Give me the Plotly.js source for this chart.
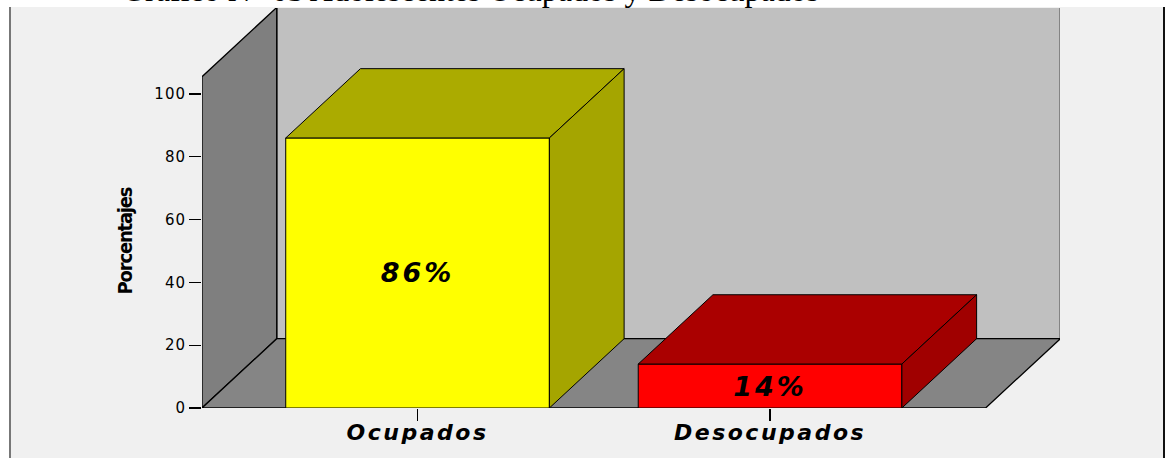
<!DOCTYPE html>
<html>
<head>
<meta charset="utf-8">
<script src="https://cdn.plot.ly/plotly-3.0.1.min.js"></script>
<style>
  html, body { margin: 0; padding: 0; background: #ffffff; }
  #chart { width: 1171px; height: 458px; }
  .xtick text { letter-spacing: 2.5px; }
  .ytick text { letter-spacing: 1px; }
  text.bartext { letter-spacing: 3px; }
  g.annotation[data-index="1"] text { letter-spacing: -1.2px; }
</style>
</head>
<body>
<div id="chart"></div>
<script>
// ---- data ----
const categories = ['Ocupados', 'Desocupados'];
const percentages = [86, 14];
const barLabels = ['86%', '14%'];
const yTickVals = [0, 20, 40, 60, 80, 100];
const chartTitle = 'Gráfico N° 03 Adolescentes Ocupados y Desocupados';
const yTitle = 'Porcentajes';

// ---- styling / geometry constants ----
const frontColors = ['#ffff00', '#ff0000'];
const topColors = ['#abab00', '#aa0000'];
const sideColors = ['#a5a500', '#a00000'];
const BAR_W = 0.748;     // bar width in category units
const DX = 0.212;        // depth offset (x units)
const DY = 22.07;        // depth offset (y units)
const WALL_H = 105.5;    // wall height (y units)
const X_LO = -0.6115, X_HI = 1.6115;
const ML = 202, MR = 111, MT = 8, MB = 50;
const PW = 1171 - ML - MR, PH = 458 - MT - MB;
const PX_PER_CAT = 352.5, PX_PER_UNIT = 3.14;
const xRange = [X_LO, X_LO + PW / PX_PER_CAT];
const yRange = [0, PH / PX_PER_UNIT];
const px2paperX = p => (p - ML) / PW;
const px2paperY = p => (458 - MB - p) / PH;

const idx = categories.map((_, i) => i);
const traces = [];

// front faces of bars
traces.push({
  type: 'bar',
  x: idx,
  y: percentages,
  width: BAR_W,
  marker: { color: frontColors, line: { color: '#000', width: 1 } },
  text: barLabels,
  textposition: 'inside',
  insidetextanchor: 'middle',
  textangle: 0,
  constraintext: 'none',
  insidetextfont: { family: 'DejaVu Sans, Verdana, sans-serif', size: 27, color: '#000', weight: 'bold', style: 'italic' },
  hoverinfo: 'skip',
  showlegend: false
});

// top and side faces (depth) of bars
idx.forEach(i => {
  const v = percentages[i];
  const l = i - BAR_W / 2, r = i + BAR_W / 2;
  traces.push({
    type: 'scatter', mode: 'lines', fill: 'toself',
    x: [l, r, r + DX, l + DX, l],
    y: [v, v, v + DY, v + DY, v],
    fillcolor: topColors[i], line: { color: '#000', width: 1 },
    hoverinfo: 'skip', showlegend: false
  });
  traces.push({
    type: 'scatter', mode: 'lines', fill: 'toself',
    x: [r, r, r + DX, r + DX, r],
    y: [0, v, v + DY, DY, 0],
    fillcolor: sideColors[i], line: { color: '#000', width: 1 },
    hoverinfo: 'skip', showlegend: false
  });
});

const wallLine = { color: '#000', width: 1.3 };
const shapes = [
  // grey panel background and frame
  { type: 'rect', xref: 'paper', yref: 'paper', layer: 'below',
    x0: px2paperX(11), x1: px2paperX(1163), y0: px2paperY(470), y1: px2paperY(7),
    fillcolor: '#f0f0f0', line: { width: 0 } },
  { type: 'line', xref: 'paper', yref: 'paper', layer: 'below',
    x0: px2paperX(10), x1: px2paperX(10), y0: px2paperY(470), y1: px2paperY(7),
    line: { color: '#777777', width: 2 } },
  { type: 'line', xref: 'paper', yref: 'paper', layer: 'below',
    x0: px2paperX(1164), x1: px2paperX(1164), y0: px2paperY(470), y1: px2paperY(7),
    line: { color: '#111111', width: 2 } },
  // back wall
  { type: 'rect', xref: 'x', yref: 'y', layer: 'below',
    x0: X_LO + DX, x1: X_HI + DX, y0: DY, y1: WALL_H + DY,
    fillcolor: '#c0c0c0', line: wallLine },
  // left wall
  { type: 'path', xref: 'x', yref: 'y', layer: 'below',
    path: `M ${X_LO},0 L ${X_LO},${WALL_H} L ${X_LO + DX},${WALL_H + DY} L ${X_LO + DX},${DY} Z`,
    fillcolor: '#7f7f7f', line: wallLine },
  // floor
  { type: 'path', xref: 'x', yref: 'y', layer: 'below',
    path: `M ${X_LO},0 L ${X_HI},0 L ${X_HI + DX},${DY} L ${X_LO + DX},${DY} Z`,
    fillcolor: '#858585', line: wallLine }
];

const layout = {
  width: 1171, height: 458,
  margin: { l: ML, r: MR, t: MT, b: MB },
  paper_bgcolor: '#ffffff',
  plot_bgcolor: 'rgba(0,0,0,0)',
  hovermode: false,
  showlegend: false,
  xaxis: {
    range: xRange, showgrid: false, zeroline: false, showline: false,
    tickvals: idx, ticktext: categories,
    ticks: 'outside', ticklen: 12, tickwidth: 1.3, tickcolor: '#000',
    ticklabelstandoff: -7,
    tickfont: { family: 'DejaVu Sans, Verdana, sans-serif', size: 22, color: '#000', weight: 'bold', style: 'italic' },
    fixedrange: true
  },
  yaxis: {
    range: yRange, showgrid: false, zeroline: false, showline: false,
    tickvals: yTickVals,
    ticks: 'outside', ticklen: 12, tickwidth: 1.3, tickcolor: '#000',
    tickfont: { family: 'DejaVu Sans, Verdana, sans-serif', size: 15, color: '#000' },
    fixedrange: true
  },
  shapes: shapes,
  annotations: [
    { text: chartTitle, xref: 'paper', yref: 'paper', x: px2paperX(470), y: 1,
      xanchor: 'center', yanchor: 'bottom', yshift: -2, showarrow: false,
      font: { family: 'Liberation Serif, Times New Roman, serif', size: 32, color: '#000' } },
    { text: yTitle, xref: 'paper', yref: 'paper', x: px2paperX(125), y: px2paperY(241),
      xanchor: 'center', yanchor: 'middle', textangle: -90, showarrow: false,
      font: { family: 'Liberation Sans Narrow, DejaVu Sans Condensed, Arial Narrow, sans-serif', size: 20, color: '#000', weight: 'bold' } }
  ]
};

Plotly.newPlot('chart', traces, layout, { displayModeBar: false, staticPlot: true });
</script>
</body>
</html>
